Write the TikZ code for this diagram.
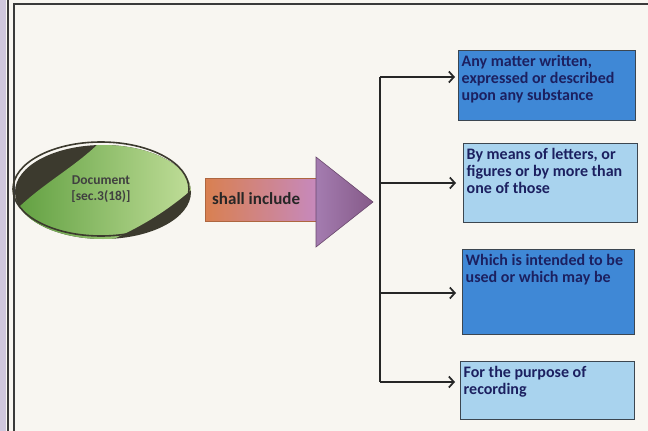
\documentclass[tikz,border=0pt]{standalone}
\usepackage{fontspec}
\setmainfont{Carlito}
\usetikzlibrary{arrows.meta,shapes.geometric}
\definecolor{bg}{HTML}{F8F6F1}
\definecolor{lav}{HTML}{CFC7DD}
\definecolor{frame}{HTML}{3A3A3A}
\definecolor{deepblue}{HTML}{3F88D6}
\definecolor{paleblue}{HTML}{A9D3EE}
\definecolor{boxline}{HTML}{3C4650}
\definecolor{navy}{HTML}{1C2060}
\definecolor{olive}{HTML}{3C3A2E}
\definecolor{leafA}{HTML}{5E9E3E}
\definecolor{leafB}{HTML}{C4E09C}
\definecolor{arrowL}{HTML}{D98050}
\definecolor{arrowR}{HTML}{C48ACA}
\definecolor{headA}{HTML}{A47CB0}
\definecolor{headB}{HTML}{855A88}
\newcommand{\boxtext}[3]{\parbox[c][#2][t]{#1}{\raggedright #3}}
\tikzset{
  infobox/.style={draw=boxline, line width=1.4pt, anchor=north west, inner xsep=3pt, inner ysep=4.5pt,
    font=\fontsize{16}{17}\selectfont\bfseries, text=navy},
  branch/.style={line width=1.7pt, draw=black!85, -{Straight Barb[length=5pt,width=11pt,line width=1.7pt]}},
  spine/.style={line width=1.7pt, draw=black!85},
}
\begin{document}
\begin{tikzpicture}[x=1pt,y=-1pt]
\useasboundingbox (0,0) rectangle (648,431);
\fill[bg] (0,0) rectangle (648,431);
\fill[lav] (0,0) rectangle (6,431);
\draw[frame, line width=2pt] (7.5,-2) -- (7.5,435);
\draw[frame, line width=1.8pt] (14,435) -- (14,4) -- (652,4);

% leaf ellipse
\begin{scope}
  \clip (103,192) ellipse [x radius=88, y radius=47];
  \fill[olive] (0,130) rectangle (200,250);
  \shade[left color=leafA, right color=leafB]
    (18,208) .. controls (45,182) and (78,165) .. (102,140) -- (200,140) -- (200,182)
    .. controls (170,210) and (140,228) .. (100,245) -- (10,245) -- cycle;
\end{scope}
\node[ellipse, draw=olive, line width=1.6pt, minimum width=176pt, minimum height=94pt,
  align=center, font=\fontsize{13.5}{16}\selectfont\bfseries, text=black!75] (doc) at (101,189)
  {Document\\{[}sec.3(18){]}};

% big arrow
\shade[left color=arrowL, right color=arrowR, draw=arrowL!80!black, line width=0.6pt]
  (205,178) rectangle (330,221);
\node[anchor=west, font=\fontsize{17}{18}\selectfont\bfseries, text=black!85, inner sep=0pt]
  (incl) at (212,199) {shall include};
\shade[left color=headA, right color=headB, draw=headB!80!black, line width=0.6pt]
  (316,157) -- (373,202) -- (316,247) -- cycle;
\coordinate (tip) at (373,202);

% boxes
\node[infobox, fill=deepblue] (b1) at (458,50)
  {\boxtext{171pt}{61pt}{Any matter written, expressed or described upon any substance}};
\node[infobox, fill=paleblue] (b2) at (463,143)
  {\boxtext{168pt}{70pt}{By means of letters, or figures or by more than one of those}};
\node[infobox, fill=deepblue] (b3) at (462,249)
  {\boxtext{166pt}{76pt}{Which is intended to be used or which may be}};
\node[infobox, fill=paleblue] (b4) at (460,361)
  {\boxtext{168pt}{49pt}{For the purpose of recording}};

% bracket
\coordinate (j1) at (380,77);
\coordinate (j2) at (380,183);
\coordinate (j3) at (380,293);
\coordinate (j4) at (380,382);
\draw[spine] (j1) -- (j4);
\draw[branch, shorten >=3pt] (j1) -- (b1.west |- j1);
\draw[branch, shorten >=7pt] (j2) -- (b2.west |- j2);
\draw[branch, shorten >=6pt] (j3) -- (b3.west |- j3);
\draw[branch, shorten >=5pt] (j4) -- (b4.west |- j4);
\end{tikzpicture}
\end{document}
